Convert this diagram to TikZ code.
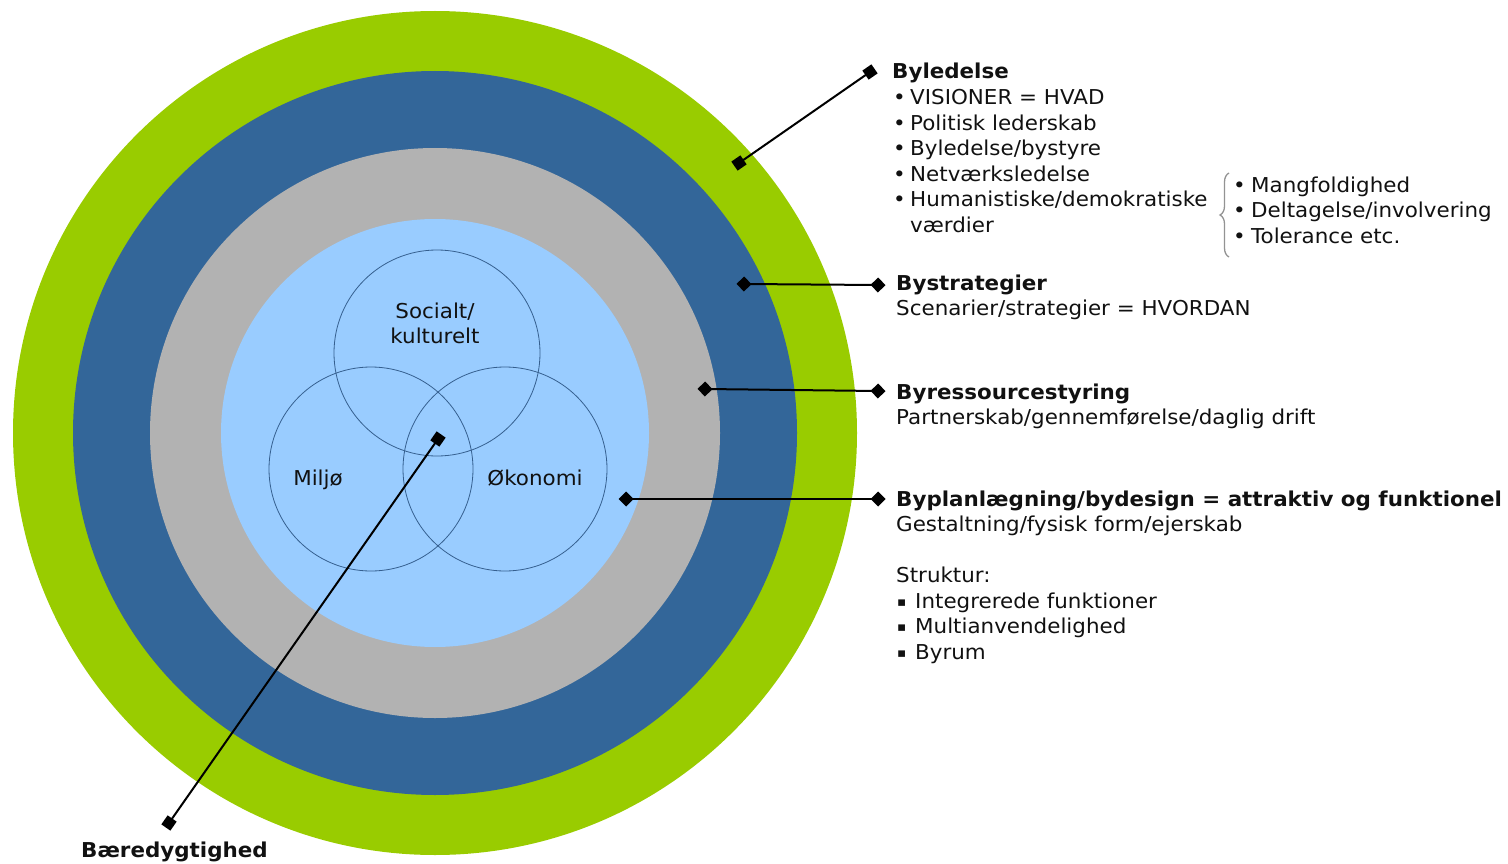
\documentclass[tikz,border=0pt]{standalone}
\usepackage{fontspec}
\setmainfont[FakeStretch=1.045]{DejaVu Sans}
\usetikzlibrary{arrows.meta,decorations.pathreplacing}
\definecolor{cgreen}{HTML}{99CC00}
\definecolor{cblue}{HTML}{336699}
\definecolor{cgray}{HTML}{B2B2B2}
\definecolor{clight}{HTML}{99CCFF}
\definecolor{cline}{HTML}{355F8F}
\definecolor{ctext}{HTML}{111111}
\begin{document}
\begin{tikzpicture}[x=1pt,y=-1pt,
  txt/.style={inner sep=0pt,anchor=base west,text=ctext,font=\fontsize{20.5}{25.6}\selectfont},
  btxt/.style={txt,font=\fontsize{20.5}{25.6}\selectfont\bfseries},
  ctxt/.style={inner sep=0pt,anchor=base,text=ctext,font=\fontsize{20.5}{25.6}\selectfont},
  venn/.style={draw=cline,line width=0.8pt},
  sqline/.style={line width=2pt,shorten <=-5.5pt,shorten >=-5.5pt,{Square[length=11pt,width=11pt]}-{Square[length=11pt,width=11pt]}},
  dmline/.style={line width=2pt,shorten <=-7.5pt,shorten >=-7.5pt,{Diamond[length=15pt,width=15pt]}-{Diamond[length=15pt,width=15pt]}}]
\useasboundingbox (0,0) rectangle (1508,864);
% rings
\fill[cgreen] (435,433) circle (422);
\fill[cblue] (435,433) circle (362);
\fill[cgray] (435,433) circle (285);
\fill[clight] (435,433) circle (214);
% venn
\draw[venn] (437,353) circle (103);
\draw[venn] (371,469) circle (102);
\draw[venn] (505,469) circle (102);
\node[ctxt] (soc1) at (435,318) {Socialt/};
\node[ctxt] (soc2) at (435,343) {kulturelt};
\node[ctxt] (milj) at (318,485) {Miljø};
\node[ctxt] (okon) at (535,485) {Økonomi};
% connector coordinates
\coordinate (a1) at (870,72);
\coordinate (a2) at (739,163);
\coordinate (b1) at (744,284);
\coordinate (b2) at (878,285);
\coordinate (c1) at (705,389);
\coordinate (c2) at (878,391);
\coordinate (d1) at (626,499);
\coordinate (d2) at (878,499);
\coordinate (e1) at (438,439);
\coordinate (e2) at (169,823);
\draw[sqline] (a2) -- (a1);
\draw[dmline] (b1) -- (b2);
\draw[dmline] (c1) -- (c2);
\draw[dmline] (d1) -- (d2);
\draw[sqline] (e1) -- (e2);
% Byledelse block
\node[btxt] (t0) at (892,79) {Byledelse};
\foreach \i/\t in {1/{VISIONER = HVAD},2/{Politisk lederskab},3/{Byledelse/bystyre},4/{Netværksledelse},5/{Humanistiske/demokratiske}}{
  \node[txt] (bu\i) at (893,79+25.6*\i) {•};
  \node[txt] (tl\i) at (910,79+25.6*\i) {\t};
}
\node[txt] (tl6) at (910,232.6) {værdier};
% brace
\draw[decorate,decoration={brace,amplitude=9pt,aspect=0.5},draw=gray!85,line width=1.3pt] (1229,257) -- (1229,173);
\foreach \i/\t in {1/{Mangfoldighed},2/{Deltagelse/involvering},3/{Tolerance etc.}}{
  \node[txt] (sb\i) at (1233,166.5+25.6*\i) {•};
  \node[txt] (st\i) at (1251,166.5+25.6*\i) {\t};
}
% Bystrategier
\node[btxt] (h2) at (896,290) {Bystrategier};
\node[txt] (s2) at (896,315.5) {Scenarier/strategier = HVORDAN};
% Byressourcestyring
\node[btxt] (h3) at (896,399) {Byressourcestyring};
\node[txt] (s3) at (896,424.5) {Partnerskab/gennemførelse/daglig drift};
% Byplanlaegning
\node[btxt] (h4) at (896,506) {Byplanlægning/bydesign = attraktiv og funktionel};
\node[txt] (s4) at (896,531.5) {Gestaltning/fysisk form/ejerskab};
\node[txt] (s5) at (896,582.5) {Struktur:};
\foreach \i/\t in {1/{Integrerede funktioner},2/{Multianvendelighed},3/{Byrum}}{
  \node[txt,font=\fontsize{13}{15}\selectfont] (qb\i) at (897,580.5+25.6*\i) {▪};
  \node[txt] (qt\i) at (915,582.5+25.6*\i) {\t};
}
% Baeredygtighed
\node[btxt] (h5) at (81,857) {Bæredygtighed};
\end{tikzpicture}
\end{document}
